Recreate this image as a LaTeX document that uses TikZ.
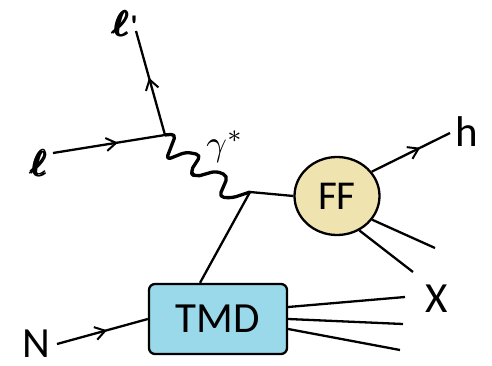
\documentclass[tikz,border=0pt]{standalone}
\usepackage[no-math]{fontspec}
\setmainfont{Carlito}
\usepackage{amsmath,bm,graphicx}
\usetikzlibrary{shapes.geometric,decorations.markings,arrows.meta}
\definecolor{tmdblue}{HTML}{99D9EA}
\definecolor{ffyellow}{HTML}{EFE4B0}
\newcommand{\thickell}{\scalebox{3.6}{$\pmb{\boldsymbol{\ell}}$}}
\tikzset{
  line/.style={line width=2.3pt},
  midarrow/.style={line, postaction={decorate}, decoration={markings,
      mark=at position #1 with {\arrow{Straight Barb[length=10pt,width=13pt,line width=2pt]}}}},
  photon/.style={line width=3.3pt, rounded corners=5pt, line join=round},
  bigtext/.style={font=\fontsize{43}{48}\selectfont, inner sep=0pt},
  blob/.style={draw, line width=2.3pt},
}
\begin{document}
\begin{tikzpicture}[x=1pt,y=-1pt]
\useasboundingbox (0,0) rectangle (492,366);
% nodes
\node[blob, ellipse, fill=ffyellow, minimum width=85pt, minimum height=78pt, inner sep=0pt, font=\fontsize{41}{44}\selectfont] (ff) at (337,196) {FF};
\node[blob, rectangle, rounded corners=6pt, fill=tmdblue, minimum width=138pt, minimum height=70pt, inner sep=0pt, font=\fontsize{43}{48}\selectfont] (tmd) at (218,319) {TMD};
\node[inner sep=0pt] (lp) at (125,24) {\thickell\hspace{1pt}{\fontsize{30}{32}\selectfont\bfseries\textquotesingle}};
\node[inner sep=0pt] (l) at (39,163) {\thickell};
\node[inner sep=0pt] (gam) at (225,147) {\scalebox{3.6}{$\gamma^*$}};
\node[bigtext] (h) at (467,132) {h};
\node[bigtext] (X) at (437,299) {X};
\node[bigtext] (N) at (36,344) {N};
% coordinates
\coordinate (v1) at (165,135);
\coordinate (v2) at (250,192);
\coordinate (lstart) at (53,153);
\coordinate (lpend) at (136,31);
\coordinate (hend) at (450,133);
\coordinate (fx1) at (435,248);
\coordinate (fx2) at (413,272);
\coordinate (nstart) at (57,344);
\coordinate (tx1) at (405,297);
\coordinate (tx2) at (403,324);
\coordinate (tx3) at (400,350);
% connectors
\draw[midarrow=0.58] (lstart) -- (v1);
\draw[midarrow=0.55] (v1) -- (lpend);
\draw[photon] (v1) -- (176,134) -- (166,160) -- (186,152) -- (201,155) -- (190,172) -- (195,177) -- (216,171) -- (228,176) -- (219,197) -- (232,198) -- (v2);
\draw[line] (v2) -- (ff.west);
\draw[line] (v2) -- ([xshift=-18pt]tmd.north);
\draw[midarrow=0.62] (ff.35) -- (hend);
\draw[line] (ff.-34) -- (fx1);
\draw[line] (ff.-57) -- (fx2);
\draw[midarrow=0.55] (nstart) -- (tmd.west);
\draw[line] ([yshift=12pt]tmd.east) -- (tx1);
\draw[line] ([yshift=0pt]tmd.east) -- (tx2);
\draw[line] ([yshift=-10pt]tmd.east) -- (tx3);
\end{tikzpicture}
\end{document}
